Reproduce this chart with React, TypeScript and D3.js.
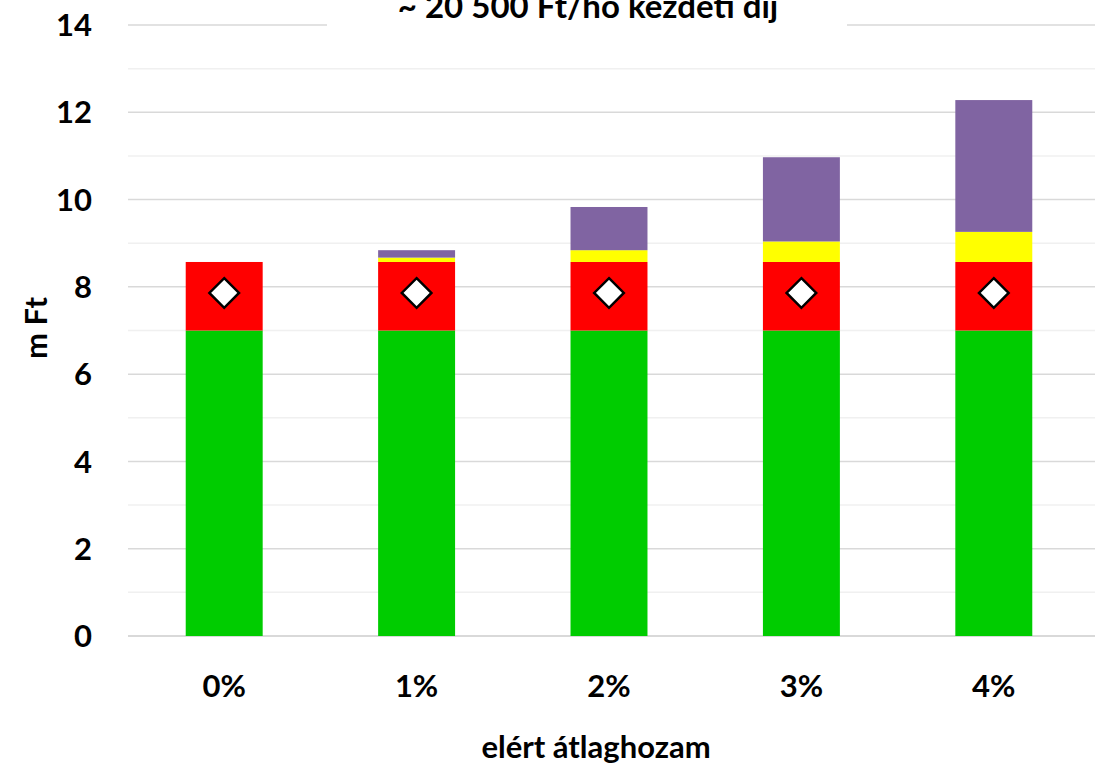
import React, { useEffect } from 'react';
import * as d3 from 'd3';

const categories = ['0%', '1%', '2%', '3%', '4%'];
const greenValues = [7.0, 7.0, 7.0, 7.0, 7.0];
const redValues = [1.57, 1.57, 1.57, 1.57, 1.57];
const yellowValues = [0, 0.1, 0.27, 0.47, 0.69];
const purpleValues = [0, 0.17, 0.99, 1.93, 3.02];
const diamondValues = [7.86, 7.86, 7.86, 7.86, 7.86];
const yTicks = [0, 2, 4, 6, 8, 10, 12, 14];
const gridValues = d3.range(1, 15);

const SERIES = [
  { key: 'green', values: greenValues, color: '#00CC00' },
  { key: 'red', values: redValues, color: '#FF0000' },
  { key: 'yellow', values: yellowValues, color: '#FFFF00' },
  { key: 'purple', values: purpleValues, color: '#8064A2' },
];

const WIDTH = 1095;
const HEIGHT = 771;
const FONT = 'Lato, "Open Sans", sans-serif';
const FS = 31;

export default function App() {
  useEffect(() => {
    document.body.style.margin = '0';
  }, []);

  const x = d3
    .scaleBand<string>()
    .domain(categories)
    .range([128, 1090])
    .paddingInner(0.6)
    .paddingOuter(0.3);

  const y = d3.scaleLinear().domain([0, 14]).range([636, 25]);

  const stacked = categories.map((c, i) => {
    let base = 0;
    return SERIES.map((s) => {
      const seg = { key: s.key, color: s.color, y0: base, y1: base + s.values[i] };
      base += s.values[i];
      return seg;
    });
  });

  const diamond = d3.symbol().type(d3.symbolDiamond2).size(560)();

  return (
    <svg width={WIDTH} height={HEIGHT} style={{ display: 'block', background: '#fff' }}>
      {/* gridlines */}
      {gridValues.map((v) => (
        <line
          key={v}
          x1={128}
          x2={WIDTH}
          y1={y(v)}
          y2={y(v)}
          stroke={v % 2 === 0 ? '#D9D9D9' : '#F0F0F0'}
          strokeWidth={1.5}
        />
      ))}
      <line x1={128} x2={WIDTH} y1={y(0)} y2={y(0)} stroke="#D9D9D9" strokeWidth={2} />

      {/* bars */}
      {categories.map((c, i) => (
        <g key={c}>
          {stacked[i]
            .filter((s) => s.y1 > s.y0)
            .map((s) => (
              <rect
                key={s.key}
                x={x(c)}
                y={y(s.y1)}
                width={x.bandwidth()}
                height={y(s.y0) - y(s.y1)}
                fill={s.color}
              />
            ))}
          <path
            d={diamond || ''}
            transform={`translate(${(x(c) || 0) + x.bandwidth() / 2},${y(diamondValues[i])})`}
            fill="#fff"
            stroke="#000"
            strokeWidth={2.5}
          />
        </g>
      ))}

      {/* title */}
      <rect x={327} y={0} width={520} height={40} fill="#fff" />
      <text x={588} y={18} textAnchor="middle" fontFamily={FONT} fontWeight="bold" fontSize={33} fill="#000">
        ~ 20 500 Ft/hó kezdeti díj
      </text>

      {/* y ticks */}
      {yTicks.map((t) => (
        <text
          key={t}
          x={92}
          y={y(t)}
          dy="0.36em"
          textAnchor="end"
          fontFamily={FONT}
          fontWeight="bold"
          fontSize={FS}
          fill="#000"
        >
          {t}
        </text>
      ))}

      {/* x ticks */}
      {categories.map((c) => (
        <text
          key={c}
          x={(x(c) || 0) + x.bandwidth() / 2}
          y={686}
          dy="0.36em"
          textAnchor="middle"
          fontFamily={FONT}
          fontWeight="bold"
          fontSize={FS}
          fill="#000"
        >
          {c}
        </text>
      ))}

      <text
        transform="translate(36,328) rotate(-90)"
        textAnchor="middle"
        dy="0.36em"
        fontFamily={FONT}
        fontWeight="bold"
        fontSize={FS}
        fill="#000"
      >
        m Ft
      </text>
      <text x={596} y={758} textAnchor="middle" fontFamily={FONT} fontWeight="bold" fontSize={FS} fill="#000">
        elért átlaghozam
      </text>
    </svg>
  );
}
